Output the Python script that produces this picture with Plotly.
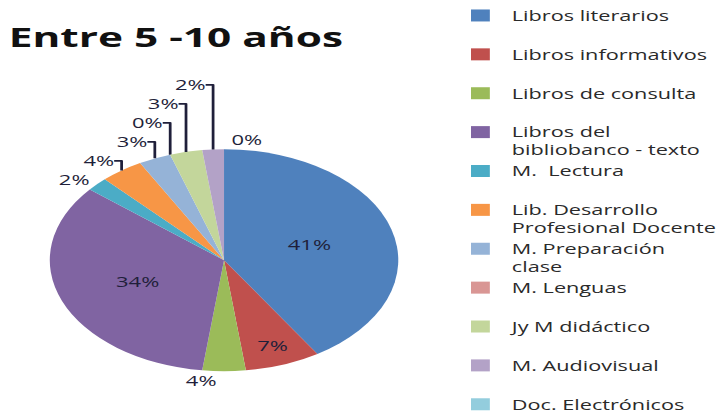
import plotly.graph_objects as go

categorias = ['Libros literarios', 'Libros informativos', 'Libros de consulta',
              'Libros del<br>bibliobanco - texto', 'M.  Lectura',
              'Lib. Desarrollo<br>Profesional Docente', 'M. Preparación<br>clase',
              'M. Lenguas', 'Jy M didáctico', 'M. Audiovisual', 'Doc. Electrónicos']
porcentajes = [41, 7, 4, 34, 2, 4, 3, 0, 3, 2, 0]
colores = ['#4F81BD', '#C0504D', '#9BBB59', '#8064A2', '#4BACC6', '#F79646',
           '#95B3D7', '#D99694', '#C3D69B', '#B3A2C7', '#93CDDD']

# el original está estirado en horizontal: se dibuja estrecho y se estira con CSS
ESTIRA = 1.57
ANCHO = round(725 / ESTIRA)

# etiquetas de una sola línea ocupan dos renglones, como en Excel
leyenda = [c if '<br>' in c else c + '<br> ' for c in categorias]
posiciones = ['inside' if p >= 7 else 'outside' for p in porcentajes]

fig = go.Figure(go.Pie(
    labels=leyenda,
    values=porcentajes,
    text=[f'{p}%' for p in porcentajes],
    textinfo='text',
    textposition=posiciones,
    insidetextorientation='horizontal',
    sort=False,
    direction='clockwise',
    rotation=0,
    marker=dict(colors=colores, line=dict(width=0)),
    textfont=dict(size=14, color='#1F1F3A'),
    domain=dict(x=[0.07, 0.56], y=[0.09, 0.65]),
    hoverinfo='skip',
))

fig.update_layout(
    width=ANCHO, height=413,
    margin=dict(l=0, r=0, t=0, b=0),
    paper_bgcolor='white',
    font=dict(family='Open Sans, sans-serif', color='#222222'),
    title=dict(text='<b>Entre 5 -10 años</b>', x=0.012, xanchor='left',
               y=0.91, yanchor='middle', font=dict(size=27, color='#111111')),
    legend=dict(x=0.632, y=0.982, xanchor='left', yanchor='top',
                font=dict(size=13.8, color='#2A2A2A'), valign='top',
                itemwidth=30),
    showlegend=True,
)

fig.write_html('out.html', config={'displayModeBar': False}, post_script=(
    "document.body.style.margin='0';"
    "var gd=document.getElementById('{plot_id}');"
    f"gd.style.transformOrigin='0 0';gd.style.transform='scaleX({ESTIRA})';"
))
